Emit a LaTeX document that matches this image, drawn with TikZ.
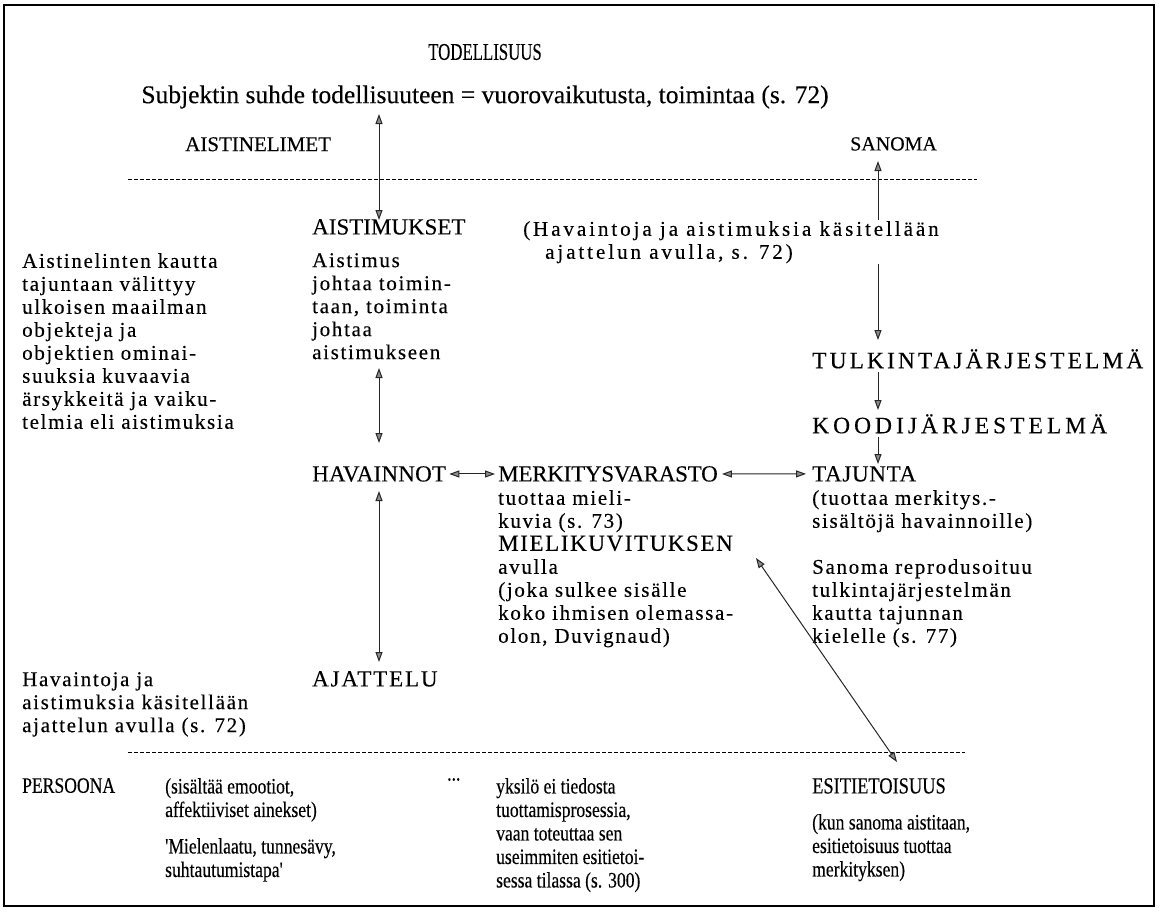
\documentclass[tikz,border=0pt]{standalone}
\usepackage{fontspec}
\setmainfont{Liberation Serif}
\newfontfamily\bodyf[LetterSpace=8,FakeBold=0.25]{Liberation Serif}
\newfontfamily\capf[FakeBold=0.25]{Liberation Serif}
\newfontfamily\condf[FakeStretch=0.8,FakeBold=0.25]{Liberation Serif}
\newfontfamily\narf[FakeStretch=0.7,FakeBold=0.25]{Liberation Serif}
\usetikzlibrary{arrows.meta}
\newcommand\ls[1]{\addfontfeatures{LetterSpace=#1}}
\begin{document}
\begin{tikzpicture}[x=1pt,y=-1pt,
  body/.style={font=\bodyf\fontsize{21}{23}\selectfont, anchor=north west, align=left, inner sep=0pt},
  caps/.style={font=\capf\fontsize{23}{23}\selectfont, anchor=north west, align=left, inner sep=0pt},
  cond/.style={font=\condf\fontsize{22}{23.5}\selectfont, anchor=north west, align=left, inner sep=0pt},
  tip/.tip={Triangle[width=7pt,length=10pt,fill=black!45]},
  conn/.style={line width=1pt, draw=black!85, tip-tip},
  arr/.style={line width=1pt, draw=black!85, -tip},
  sep/.style={line width=0.7pt, dash pattern=on 4pt off 2pt},
]
\useasboundingbox (0,0) rectangle (1159,911);
\draw[line width=1.4pt] (4,5) rectangle (1154,906);

% top
\node[anchor=center, inner sep=0pt, font=\narf\fontsize{24}{26}\selectfont] (tod) at (485,52) {TODELLISUUS};
\node[anchor=center, inner sep=0pt, font=\capf\fontsize{25.5}{28}\selectfont] (subj) at (485,97) {Subjektin suhde todellisuuteen = vuorovaikutusta, toimintaa (s. 72)};
\node[caps, font=\capf\fontsize{21}{23}\selectfont] (aelim) at (185,137) {AISTINELIMET};
\node[caps, font=\capf\fontsize{20}{23}\selectfont] (sanoma) at (850,137) {SANOMA};
\draw[sep] (128,179) -- (977,179);

% middle
\node[caps] (aistimukset) at (312,219) {AISTIMUKSET};
\node[body] (leftA) at (22,253) {Aistinelinten kautta\\tajuntaan välittyy\\ulkoisen maailman\\objekteja ja\\objektien ominai-\\suuksia kuvaavia\\ärsykkeitä ja vaiku-\\telmia eli aistimuksia};
\node[body] (aistimus) at (312,253) {Aistimus\\johtaa toimin-\\taan, toiminta\\johtaa\\aistimukseen};
\node[caps, font=\capf\ls{13}\fontsize{23.5}{23}\selectfont] (tulk) at (812,349) {TULKINTAJÄRJESTELMÄ};
\node[caps, font=\capf\ls{17}\fontsize{23.5}{23}\selectfont] (kood) at (812,414) {KOODIJÄRJESTELMÄ};
\node[caps, font=\capf\ls{1}\fontsize{23}{23}\selectfont] (hav) at (312,466) {HAVAINNOT};
\node[caps, font=\capf\ls{-1}\fontsize{23}{23}\selectfont] (merk) at (498,466) {MERKITYSVARASTO};
\node[caps, font=\capf\ls{3}\fontsize{23}{23}\selectfont] (taj) at (812,466) {TAJUNTA};
\node[body] (tajtxt) at (812,490) {(tuottaa merkitys.-\\sisältöjä havainnoille)};
\node[body] (sanrep) at (812,559) {Sanoma reprodusoituu\\tulkintajärjestelmän\\kautta tajunnan\\kielelle (s. 77)};
\node[body] (merktxt) at (498,490) {tuottaa mieli-\\kuvia (s. 73)\\{\capf\ls{7}\fontsize{23}{23}\selectfont MIELIKUVITUKSEN}\\avulla\\(joka sulkee sisälle\\koko ihmisen olemassa-\\olon, Duvignaud)};
\node[caps, font=\capf\ls{8}\fontsize{23}{23}\selectfont] (ajat) at (312,671) {AJATTELU};
\node[body] (leftB) at (22,672) {Havaintoja ja\\aistimuksia käsitellään\\ajattelun avulla (s. 72)};
\draw[sep] (128,752) -- (965,752);

% connectors
\draw[conn] (379,114) -- (379,220);
\draw[conn] (379,368) -- (379,443);
\draw[conn] (379,491) -- (379,662);
\draw[conn, shorten <=3pt, shorten >=3pt] (hav.east) -- (merk.west);
\draw[conn, shorten <=4pt, shorten >=6pt] (merk.east) -- (taj.west);
\draw[conn] (878,161) -- (878,340);
\node[body, font=\bodyf\ls{14}\fontsize{21}{23}\selectfont, fill=white, inner sep=1pt] (havnote) at (522,220) {(Havaintoja ja aistimuksia käsitellään\\\hspace*{22pt}ajattelun avulla, s. 72)};
\draw[arr] (878,372) -- (878,410);
\draw[arr] (878,437) -- (878,464);
\coordinate (mk) at (756,558);
\coordinate (es) at (897,762);
\draw[conn] (mk) -- (es);

% bottom
\node[cond] (pers) at (22,778) {PERSOONA};
\node[cond] (sis) at (165,778) {(sisältää emootiot,\\affektiiviset ainekset)};
\node[cond] (miel) at (165,838) {'Mielenlaatu, tunnesävy,\\suhtautumistapa'};
\node[cond] (dots) at (447,778) {...};
\node[cond] (yks) at (496,778) {yksilö ei tiedosta\\tuottamisprosessia,\\vaan toteuttaa sen\\useimmiten esitietoi-\\sessa tilassa (s. 300)};
\node[cond, font=\condf\fontsize{23}{23.5}\selectfont] (esi) at (812,778) {ESITIETOISUUS};
\node[cond] (kun) at (812,814) {(kun sanoma aistitaan,\\esitietoisuus tuottaa\\merkityksen)};
\end{tikzpicture}
\end{document}
